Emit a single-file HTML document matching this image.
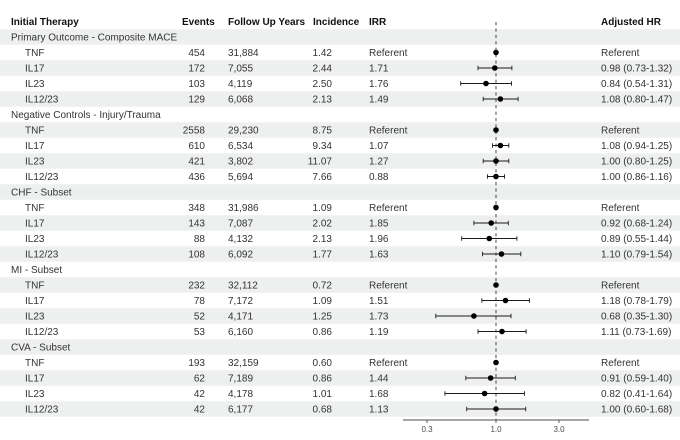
<!DOCTYPE html>
<html><head><meta charset="utf-8"><style>
html,body{margin:0;padding:0;background:#fff;}
svg{display:block;}
text{font-family:"Liberation Sans",Arial,sans-serif;font-size:10px;fill:#333;}
.h{font-weight:bold;fill:#111;}
.e{text-anchor:end;}
.ax{font-size:8px;fill:#4d4d4d;text-anchor:middle;}
</style></head><body>
<svg width="680" height="440" viewBox="0 0 680 440" xmlns="http://www.w3.org/2000/svg">
<g fill="#eef0ef">
<rect x="0" y="29.25" width="680" height="15.5"/>
<rect x="0" y="60.25" width="680" height="15.5"/>
<rect x="0" y="91.25" width="680" height="15.5"/>
<rect x="0" y="122.25" width="680" height="15.5"/>
<rect x="0" y="153.25" width="680" height="15.5"/>
<rect x="0" y="184.25" width="680" height="15.5"/>
<rect x="0" y="215.25" width="680" height="15.5"/>
<rect x="0" y="246.25" width="680" height="15.5"/>
<rect x="0" y="277.25" width="680" height="15.5"/>
<rect x="0" y="308.25" width="680" height="15.5"/>
<rect x="0" y="339.25" width="680" height="15.5"/>
<rect x="0" y="370.25" width="680" height="15.5"/>
<rect x="0" y="401.25" width="680" height="15.5"/>
</g>
<!-- header -->
<text class="h" x="11" y="25">Initial Therapy</text>
<text class="h" x="182" y="25">Events</text>
<text class="h" x="228" y="25">Follow Up Years</text>
<text class="h" x="313" y="25">Incidence</text>
<text class="h" x="369" y="25">IRR</text>
<text class="h" x="601" y="25">Adjusted HR</text>

<!-- rows -->
<text x="11" y="40.5">Primary Outcome - Composite MACE</text>
<text x="25" y="56">TNF</text><text class="e" x="205" y="56">454</text><text x="228" y="56">31,884</text><text class="e" x="332" y="56">1.42</text><text x="369" y="56">Referent</text><text x="601" y="56">Referent</text>
<text x="25" y="71.5">IL17</text><text class="e" x="205" y="71.5">172</text><text x="228" y="71.5">7,055</text><text class="e" x="332" y="71.5">2.44</text><text x="369" y="71.5">1.71</text><text x="601" y="71.5">0.98 (0.73-1.32)</text>
<text x="25" y="87">IL23</text><text class="e" x="205" y="87">103</text><text x="228" y="87">4,119</text><text class="e" x="332" y="87">2.50</text><text x="369" y="87">1.76</text><text x="601" y="87">0.84 (0.54-1.31)</text>
<text x="25" y="102.5">IL12/23</text><text class="e" x="205" y="102.5">129</text><text x="228" y="102.5">6,068</text><text class="e" x="332" y="102.5">2.13</text><text x="369" y="102.5">1.49</text><text x="601" y="102.5">1.08 (0.80-1.47)</text>

<text x="11" y="118">Negative Controls - Injury/Trauma</text>
<text x="25" y="133.5">TNF</text><text class="e" x="205" y="133.5">2558</text><text x="228" y="133.5">29,230</text><text class="e" x="332" y="133.5">8.75</text><text x="369" y="133.5">Referent</text><text x="601" y="133.5">Referent</text>
<text x="25" y="149">IL17</text><text class="e" x="205" y="149">610</text><text x="228" y="149">6,534</text><text class="e" x="332" y="149">9.34</text><text x="369" y="149">1.07</text><text x="601" y="149">1.08 (0.94-1.25)</text>
<text x="25" y="164.5">IL23</text><text class="e" x="205" y="164.5">421</text><text x="228" y="164.5">3,802</text><text class="e" x="332" y="164.5">11.07</text><text x="369" y="164.5">1.27</text><text x="601" y="164.5">1.00 (0.80-1.25)</text>
<text x="25" y="180">IL12/23</text><text class="e" x="205" y="180">436</text><text x="228" y="180">5,694</text><text class="e" x="332" y="180">7.66</text><text x="369" y="180">0.88</text><text x="601" y="180">1.00 (0.86-1.16)</text>

<text x="11" y="195.5">CHF - Subset</text>
<text x="25" y="211">TNF</text><text class="e" x="205" y="211">348</text><text x="228" y="211">31,986</text><text class="e" x="332" y="211">1.09</text><text x="369" y="211">Referent</text><text x="601" y="211">Referent</text>
<text x="25" y="226.5">IL17</text><text class="e" x="205" y="226.5">143</text><text x="228" y="226.5">7,087</text><text class="e" x="332" y="226.5">2.02</text><text x="369" y="226.5">1.85</text><text x="601" y="226.5">0.92 (0.68-1.24)</text>
<text x="25" y="242">IL23</text><text class="e" x="205" y="242">88</text><text x="228" y="242">4,132</text><text class="e" x="332" y="242">2.13</text><text x="369" y="242">1.96</text><text x="601" y="242">0.89 (0.55-1.44)</text>
<text x="25" y="257.5">IL12/23</text><text class="e" x="205" y="257.5">108</text><text x="228" y="257.5">6,092</text><text class="e" x="332" y="257.5">1.77</text><text x="369" y="257.5">1.63</text><text x="601" y="257.5">1.10 (0.79-1.54)</text>

<text x="11" y="273">MI - Subset</text>
<text x="25" y="288.5">TNF</text><text class="e" x="205" y="288.5">232</text><text x="228" y="288.5">32,112</text><text class="e" x="332" y="288.5">0.72</text><text x="369" y="288.5">Referent</text><text x="601" y="288.5">Referent</text>
<text x="25" y="304">IL17</text><text class="e" x="205" y="304">78</text><text x="228" y="304">7,172</text><text class="e" x="332" y="304">1.09</text><text x="369" y="304">1.51</text><text x="601" y="304">1.18 (0.78-1.79)</text>
<text x="25" y="319.5">IL23</text><text class="e" x="205" y="319.5">52</text><text x="228" y="319.5">4,171</text><text class="e" x="332" y="319.5">1.25</text><text x="369" y="319.5">1.73</text><text x="601" y="319.5">0.68 (0.35-1.30)</text>
<text x="25" y="335">IL12/23</text><text class="e" x="205" y="335">53</text><text x="228" y="335">6,160</text><text class="e" x="332" y="335">0.86</text><text x="369" y="335">1.19</text><text x="601" y="335">1.11 (0.73-1.69)</text>

<text x="11" y="350.5">CVA - Subset</text>
<text x="25" y="366">TNF</text><text class="e" x="205" y="366">193</text><text x="228" y="366">32,159</text><text class="e" x="332" y="366">0.60</text><text x="369" y="366">Referent</text><text x="601" y="366">Referent</text>
<text x="25" y="381.5">IL17</text><text class="e" x="205" y="381.5">62</text><text x="228" y="381.5">7,189</text><text class="e" x="332" y="381.5">0.86</text><text x="369" y="381.5">1.44</text><text x="601" y="381.5">0.91 (0.59-1.40)</text>
<text x="25" y="397">IL23</text><text class="e" x="205" y="397">42</text><text x="228" y="397">4,178</text><text class="e" x="332" y="397">1.01</text><text x="369" y="397">1.68</text><text x="601" y="397">0.82 (0.41-1.64)</text>
<text x="25" y="412.5">IL12/23</text><text class="e" x="205" y="412.5">42</text><text x="228" y="412.5">6,177</text><text class="e" x="332" y="412.5">0.68</text><text x="369" y="412.5">1.13</text><text x="601" y="412.5">1.00 (0.60-1.68)</text>

<!-- reference dashed line -->
<line x1="496" y1="22" x2="496" y2="420" stroke="#333" stroke-width="0.9" stroke-dasharray="3.2,3.2"/>

<!-- CIs -->
<g stroke="#1a1a1a" stroke-width="0.9" fill="none">
<path d="M478 68H511.9M478 65.7V70.3M511.9 65.7V70.3"/>
<path d="M460.7 83.5H511.5M460.7 81.2V85.8M511.5 81.2V85.8"/>
<path d="M483.2 99H518.1M483.2 96.7V101.3M518.1 96.7V101.3"/>
<path d="M492.5 145.5H508.8M492.5 143.2V147.8M508.8 143.2V147.8"/>
<path d="M483.2 161H508.8M483.2 158.7V163.3M508.8 158.7V163.3"/>
<path d="M487.4 176.5H504.5M487.4 174.2V178.8M504.5 174.2V178.8"/>
<path d="M473.9 223H508.3M473.9 220.7V225.3M508.3 220.7V225.3"/>
<path d="M461.7 238.5H516.9M461.7 236.2V240.8M516.9 236.2V240.8"/>
<path d="M482.5 254H520.8M482.5 251.7V256.3M520.8 251.7V256.3"/>
<path d="M481.8 300.5H529.4M481.8 298.2V302.8M529.4 298.2V302.8"/>
<path d="M435.8 316H511M435.8 313.7V318.3M511 313.7V318.3"/>
<path d="M478 331.5H526.1M478 329.2V333.8M526.1 329.2V333.8"/>
<path d="M465.8 378H515.3M465.8 375.7V380.3M515.3 375.7V380.3"/>
<path d="M444.9 393.5H524.4M444.9 391.2V395.8M524.4 391.2V395.8"/>
<path d="M466.7 409H525.7M466.7 406.7V411.3M525.7 406.7V411.3"/>
</g>

<!-- points -->
<g fill="#000">
<circle cx="496" cy="52.5" r="2.8"/>
<circle cx="494.8" cy="68" r="2.8"/>
<circle cx="486" cy="83.5" r="2.8"/>
<circle cx="500.4" cy="99" r="2.8"/>
<circle cx="496" cy="130" r="2.8"/>
<circle cx="500.4" cy="145.5" r="2.8"/>
<circle cx="496" cy="161" r="2.8"/>
<circle cx="496" cy="176.5" r="2.8"/>
<circle cx="496" cy="207.5" r="2.8"/>
<circle cx="491.2" cy="223" r="2.8"/>
<circle cx="489.3" cy="238.5" r="2.8"/>
<circle cx="501.5" cy="254" r="2.8"/>
<circle cx="496" cy="285" r="2.8"/>
<circle cx="505.5" cy="300.5" r="2.8"/>
<circle cx="473.9" cy="316" r="2.8"/>
<circle cx="502" cy="331.5" r="2.8"/>
<circle cx="496" cy="362.5" r="2.8"/>
<circle cx="490.6" cy="378" r="2.8"/>
<circle cx="484.6" cy="393.5" r="2.8"/>
<circle cx="496" cy="409" r="2.8"/>
</g>

<!-- axis -->
<g stroke="#4d4d4d" stroke-width="0.9">
<line x1="403" y1="420" x2="589" y2="420"/>
<line x1="427" y1="420" x2="427" y2="423"/>
<line x1="496" y1="420" x2="496" y2="423"/>
<line x1="559" y1="420" x2="559" y2="423"/>
</g>
<text class="ax" x="427" y="432">0.3</text>
<text class="ax" x="496" y="432">1.0</text>
<text class="ax" x="559" y="432">3.0</text>
</svg>
</body></html>
